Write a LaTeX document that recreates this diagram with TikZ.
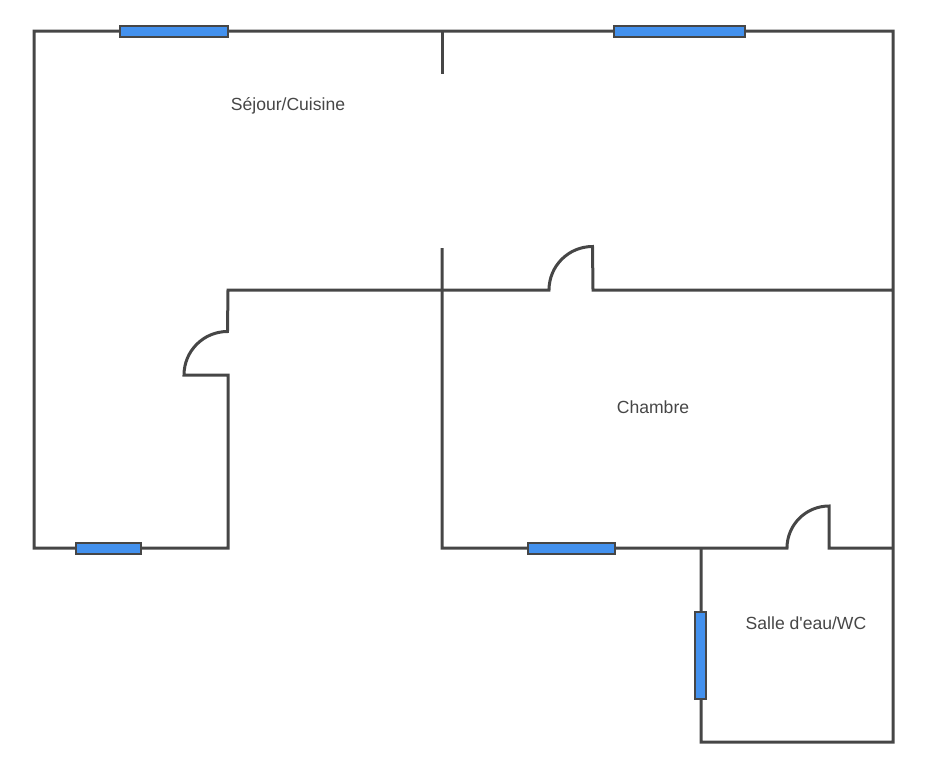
\documentclass[tikz,border=0pt]{standalone}
\usepackage{fontspec}
\setmainfont{Liberation Sans}
\usepackage{xcolor}
\usepackage{tikz}
\usetikzlibrary{positioning}

\definecolor{wallgray}{HTML}{464646}
\definecolor{glassblue}{HTML}{4391EE}

\tikzset{
    wallline/.style={line width=0.06cm, draw=wallgray},
    windowbox/.style={line width=0.05cm, draw=wallgray, fill=glassblue},
    roomlabel/.style={text=wallgray, font=\fontsize{10}{12}\selectfont}
}

\begin{document}
\begin{tikzpicture}[x=0.02cm, y=-0.02cm]
                \useasboundingbox (0,0) rectangle (929,768);

                % outer walls and corridor
                \draw[
                    wallline
                    ] (701,548) -- (701,742) -- (893,742) -- (893,31) -- (34,31)
                    -- (34,548) -- (228,548) -- (228,375) -- (184,375)
                    arc[start angle=180, end angle=90, radius=0.87cm]
                    -- (228,290) -- (549,290)
                    arc[start angle=180, end angle=90, radius=0.87cm]
                    -- (593,290) -- (893,290);

                % middle partition
                \draw[
                    wallline
                    ] (442,31) -- (442,74);

                \draw[
                    wallline
                    ] (442,248) -- (442,548) -- (787,548)
                    arc[start angle=180, end angle=90, radius=0.84cm]
                    -- (829,548) -- (893,548);

                % windows
                \draw[windowbox] (120,26) rectangle (228,37);
                \draw[windowbox] (614,26) rectangle (745,37);
                \draw[windowbox] (76,543) rectangle (141,554);
                \draw[windowbox] (528,543) rectangle (615,554);
                \draw[windowbox] (695,612) rectangle (706,699);

                % rooms
                \node[roomlabel] (sejour) at (288,106) {Séjour/Cuisine};
                \node[roomlabel] (chambre) at (653,407) {Chambre};
                \node[roomlabel] (salle) at (806,623) {Salle d\textquotesingle eau/WC};

\end{tikzpicture}
\end{document}
